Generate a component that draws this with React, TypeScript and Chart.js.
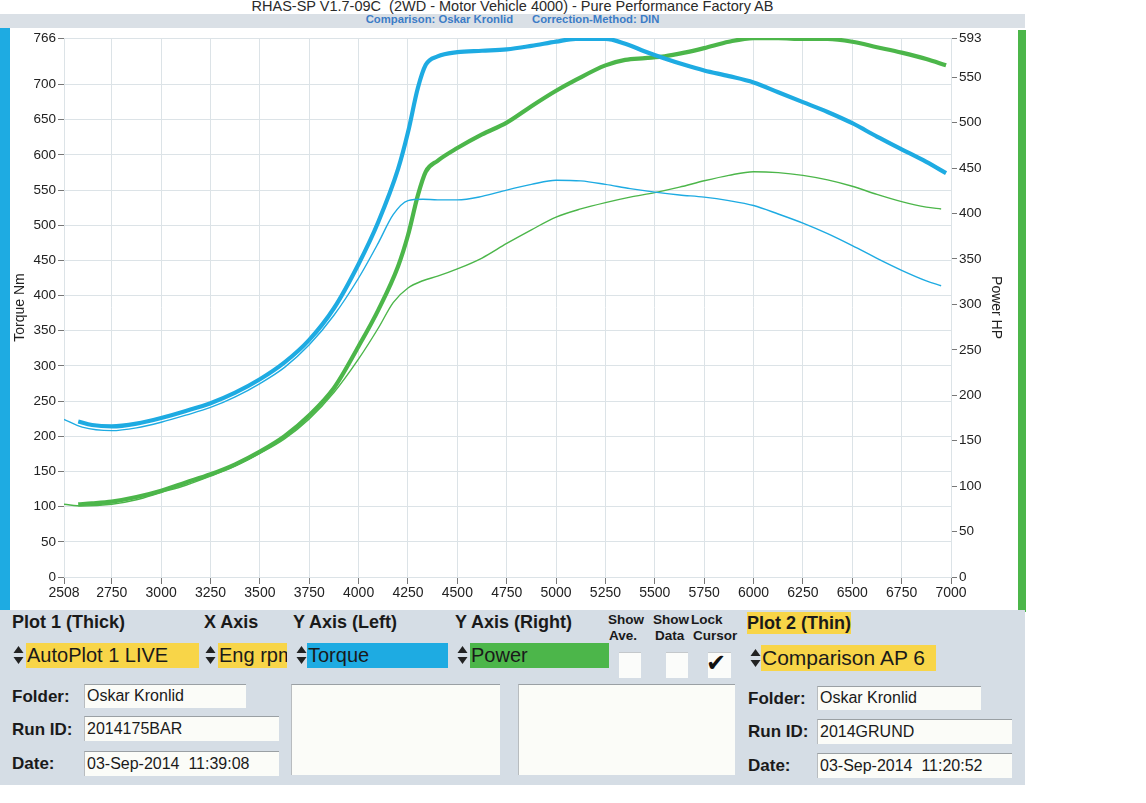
import React, { useEffect, useRef } from "react";
import { Chart, registerables } from "chart.js";

Chart.register(...registerables);

// ---- data (read from the dyno sheet) ----
const rpmThick = [2580, 2650, 2750, 2875, 3000, 3125, 3250, 3375, 3500, 3625, 3750, 3875, 4000, 4100, 4200, 4250, 4300, 4340, 4400, 4500, 4625, 4750, 4875, 5000, 5100, 5250, 5350, 5450, 5550, 5650, 5750, 5875, 6000, 6125, 6250, 6375, 6500, 6625, 6750, 6875, 6975];
const torqueThick = [221, 216, 214, 218, 226, 236, 247, 262, 281, 305, 337, 382, 445, 505, 580, 632, 695, 728, 740, 746, 748, 750, 755, 761, 765, 765, 758, 747, 737, 728, 720, 712, 703, 689, 675, 661, 645, 626, 608, 590, 574];
const powerThick = [80, 81, 83, 88, 95, 104, 113, 124, 138, 155, 178, 208, 254, 294, 342, 376, 420, 446, 458, 472, 487, 500, 518, 535, 547, 563, 569, 571, 573, 577, 582, 589, 593, 593, 592, 592, 589, 583, 577, 570, 563];

const rpmThin = [2508, 2600, 2750, 2875, 3000, 3125, 3250, 3375, 3500, 3625, 3750, 3875, 4000, 4100, 4175, 4250, 4325, 4400, 4500, 4625, 4750, 4875, 5000, 5125, 5250, 5375, 5500, 5625, 5750, 5875, 6000, 6125, 6250, 6375, 6500, 6625, 6750, 6875, 6950];
const torqueThin = [224, 213, 208, 212, 220, 230, 241, 256, 275, 298, 330, 372, 425, 475, 515, 535, 537, 536, 536, 541, 550, 558, 564, 563, 558, 552, 547, 543, 540, 535, 528, 516, 503, 488, 471, 453, 436, 421, 414];
const powerThin = [80, 78, 80, 85, 93, 101, 111, 122, 136, 152, 174, 203, 240, 274, 302, 318, 326, 331, 339, 351, 367, 382, 396, 405, 412, 418, 423, 429, 436, 442, 446, 445, 442, 437, 430, 421, 413, 407, 405];

const xTicks = [2508, 2750, 3000, 3250, 3500, 3750, 4000, 4250, 4500, 4750, 5000, 5250, 5500, 5750, 6000, 6250, 6500, 6750, 7000];
const leftTicks = [0, 50, 100, 150, 200, 250, 300, 350, 400, 450, 500, 550, 600, 650, 700, 766];
const rightTicks = [0, 50, 100, 150, 200, 250, 300, 350, 400, 450, 500, 550, 593];

const BLUE = "#1eabe2";
const GREEN = "#4cb64a";
const YELLOW = "#f8d548";
const PANEL = "#d5dde5";
const FONT = "'Liberation Sans', Arial, sans-serif";

const Spinner = ({ left, top }: { left: number; top: number }) => (
  <svg style={{ position: "absolute", left, top }} width="11" height="22" viewBox="0 0 11 22">
    <polygon points="5.5,2 10.5,9 0.5,9" fill="#222" />
    <polygon points="0.5,13 10.5,13 5.5,20" fill="#222" />
  </svg>
);

const Box = (p: { left: number; top: number; w: number; h: number; bg: string; text?: string; size?: number; color?: string }) => (
  <div
    style={{
      position: "absolute",
      left: p.left,
      top: p.top,
      width: p.w,
      height: p.h,
      background: p.bg,
      fontFamily: FONT,
      fontSize: p.size || 20,
      lineHeight: p.h + "px",
      color: p.color || "#1a1a1a",
      whiteSpace: "nowrap",
      overflow: "hidden",
      paddingLeft: 1,
      boxSizing: "border-box",
    }}
  >
    {p.text}
  </div>
);

const Label = (p: { left: number; top: number; text: string; size?: number; bold?: boolean; bg?: string }) => (
  <div
    style={{
      position: "absolute",
      left: p.left,
      top: p.top,
      fontFamily: FONT,
      fontSize: p.size || 18,
      fontWeight: p.bold === false ? 400 : 700,
      lineHeight: "22px",
      color: "#1a1a1a",
      whiteSpace: "nowrap",
      background: p.bg,
    }}
  >
    {p.text}
  </div>
);

const Field = (p: { left: number; top: number; w: number; h: number; text?: string }) => (
  <div
    style={{
      position: "absolute",
      left: p.left,
      top: p.top,
      width: p.w,
      height: p.h,
      background: "#fbfcf8",
      borderTop: "1px solid #9aa0a4",
      borderLeft: "1px solid #b8bcbf",
      boxSizing: "border-box",
      fontFamily: FONT,
      fontSize: 16,
      lineHeight: p.h - 2 + "px",
      paddingLeft: 2,
      color: "#1a1a1a",
      whiteSpace: "pre",
    }}
  >
    {p.text}
  </div>
);

const small = { position: "absolute" as const, fontFamily: FONT, fontSize: 13.5, fontWeight: 700, lineHeight: "16px", color: "#1a1a1a", whiteSpace: "nowrap" as const };

export default function App() {
  const canvasRef = useRef<HTMLCanvasElement | null>(null);

  useEffect(() => {
    document.body.style.margin = "0";
    const canvas = canvasRef.current;
    if (!canvas) return;
    const yFont = { family: FONT, size: 13.5 };
    const xFont = { family: FONT, size: 14 };
    const gridColor = "#dce3e7";
    const chart = new Chart(canvas, {
      type: "line",
      data: {
        datasets: [
          {
            label: "Torque (Plot 2)",
            data: rpmThin.map((x, i) => ({ x, y: torqueThin[i] })),
            yAxisID: "y",
            borderColor: BLUE,
            borderWidth: 1.4,
            pointRadius: 0,
            cubicInterpolationMode: "monotone",
          },
          {
            label: "Power (Plot 2)",
            data: rpmThin.map((x, i) => ({ x, y: powerThin[i] })),
            yAxisID: "y1",
            borderColor: GREEN,
            borderWidth: 1.4,
            pointRadius: 0,
            cubicInterpolationMode: "monotone",
          },
          {
            label: "Torque (Plot 1)",
            data: rpmThick.map((x, i) => ({ x, y: torqueThick[i] })),
            yAxisID: "y",
            borderColor: BLUE,
            borderWidth: 4.2,
            pointRadius: 0,
            cubicInterpolationMode: "monotone",
          },
          {
            label: "Power (Plot 1)",
            data: rpmThick.map((x, i) => ({ x, y: powerThick[i] })),
            yAxisID: "y1",
            borderColor: GREEN,
            borderWidth: 4.2,
            pointRadius: 0,
            cubicInterpolationMode: "monotone",
          },
        ],
      },
      options: {
        animation: false,
        responsive: false,
        devicePixelRatio: 1,
        layout: { padding: { top: 8, right: 12, left: 0, bottom: 0 } },
        plugins: { legend: { display: false }, tooltip: { enabled: false } },
        scales: {
          x: {
            type: "linear",
            min: 2508,
            max: 7000,
            afterBuildTicks: (s: any) => {
              s.ticks = xTicks.map((v) => ({ value: v }));
            },
            afterFit: (s: any) => {
              s.height = 33;
            },
            ticks: {
              font: xFont,
              color: "#222",
              padding: 1,
              autoSkip: false,
              maxRotation: 0,
              callback: (v: any) => String(v),
            },
            grid: { color: gridColor, tickColor: "#777", tickLength: 7 },
            border: { color: gridColor },
          },
          y: {
            position: "left",
            min: 0,
            max: 766,
            afterBuildTicks: (s: any) => {
              s.ticks = leftTicks.map((v) => ({ value: v }));
            },
            afterFit: (s: any) => {
              s.width = 54;
            },
            ticks: { font: yFont, color: "#222", padding: 2, callback: (v: any) => String(v) },
            grid: { color: gridColor, tickColor: "#777", tickLength: 6 },
            border: { color: gridColor },
            title: { display: true, text: "Torque Nm", font: { family: FONT, size: 14 }, color: "#222", padding: { top: 2, bottom: 2 } },
          },
          y1: {
            position: "right",
            min: 0,
            max: 593,
            afterBuildTicks: (s: any) => {
              s.ticks = rightTicks.map((v) => ({ value: v }));
            },
            afterFit: (s: any) => {
              s.width = 55;
            },
            ticks: { font: yFont, color: "#222", padding: 2, callback: (v: any) => String(v) },
            grid: { drawOnChartArea: false, color: gridColor, tickColor: "#777", tickLength: 6 },
            border: { color: gridColor },
            title: { display: true, text: "Power HP", font: { family: FONT, size: 14 }, color: "#222", padding: { top: 2, bottom: 2 } },
          },
        },
      } as any,
    });
    return () => chart.destroy();
  }, []);

  return (
    <div style={{ position: "relative", width: 1146, height: 803, background: "#ffffff", overflow: "hidden" }}>
      {/* title */}
      <div style={{ position: "absolute", left: 0, width: 1025, top: -2, textAlign: "center", fontFamily: FONT, fontSize: 14.5, color: "#2a2a2a", whiteSpace: "pre" }}>
        {"RHAS-SP V1.7-09C  (2WD - Motor Vehicle 4000) - Pure Performance Factory AB"}
      </div>
      <div style={{ position: "absolute", left: 0, top: 14, width: 1025, height: 14, background: "#dae0e6" }} />
      <div style={{ position: "absolute", left: 0, width: 1025, top: 13, textAlign: "center", fontFamily: FONT, fontSize: 11.3, fontWeight: 700, color: "#3c7cc6", whiteSpace: "pre" }}>
        {"Comparison: Oskar Kronlid      Correction-Method: DIN"}
      </div>
      {/* side bars */}
      <div style={{ position: "absolute", left: 0, top: 28, width: 10, height: 584, background: BLUE }} />
      <div style={{ position: "absolute", left: 1018, top: 30, width: 8, height: 582, background: GREEN }} />
      {/* chart */}
      <canvas ref={canvasRef} width={1008} height={582} style={{ position: "absolute", left: 10, top: 28, width: 1008, height: 582 }} />
      {/* bottom panel */}
      <div style={{ position: "absolute", left: 0, top: 610, width: 1025, height: 175, background: PANEL }} />
      <Label left={12} top={611} text="Plot 1 (Thick)" />
      <Label left={204} top={611} text="X Axis" />
      <Label left={293} top={611} text="Y Axis (Left)" />
      <Label left={455} top={611} text="Y Axis (Right)" />
      <div style={{ ...small, left: 608, top: 612 }}>Show</div>
      <div style={{ ...small, left: 609, top: 628 }}>Ave.</div>
      <div style={{ ...small, left: 653, top: 612 }}>Show</div>
      <div style={{ ...small, left: 655, top: 628 }}>Data</div>
      <div style={{ ...small, left: 691, top: 612 }}>Lock</div>
      <div style={{ ...small, left: 693, top: 628 }}>Cursor</div>

      <Spinner left={13} top={644} />
      <Box left={26} top={643} w={173} h={25} bg={YELLOW} text="AutoPlot 1 LIVE" />
      <Spinner left={205} top={644} />
      <Box left={218} top={643} w={69} h={25} bg={YELLOW} text="Eng rpm" />
      <Spinner left={296} top={644} />
      <Box left={307} top={643} w={141} h={25} bg={BLUE} text="Torque" />
      <Spinner left={457} top={644} />
      <Box left={470} top={643} w={139} h={25} bg={GREEN} text="Power" />

      <div style={{ position: "absolute", left: 619, top: 652, width: 22, height: 25, background: "#fbfcfa", borderTop: "1px solid #c4c8cb" }} />
      <div style={{ position: "absolute", left: 666, top: 652, width: 22, height: 25, background: "#fbfcfa", borderTop: "1px solid #c4c8cb" }} />
      <div style={{ position: "absolute", left: 708, top: 652, width: 23, height: 25, background: "#fbfcfa", borderTop: "1px solid #c4c8cb" }} />
      <div style={{ position: "absolute", left: 706, top: 649, fontFamily: "'DejaVu Sans', sans-serif", fontSize: 24, lineHeight: "28px", color: "#111" }}>✔</div>

      <Label left={747} top={612} text="Plot 2 (Thin)" bg={YELLOW} />
      <Spinner left={750} top={647} />
      <Box left={761} top={645} w={175} h={26} bg={YELLOW} text="Comparison AP 6" size={21} />

      <Label left={12} top={686} text="Folder:" size={17} />
      <Label left={12} top={719} text="Run ID:" size={17} />
      <Label left={12} top={753} text="Date:" size={17} />
      <Field left={84} top={684} w={162} h={24} text="Oskar Kronlid" />
      <Field left={84} top={716} w={195} h={25} text="2014175BAR" />
      <Field left={84} top={751} w={195} h={25} text="03-Sep-2014  11:39:08" />

      <Field left={291} top={684} w={209} h={91} />
      <Field left={518} top={684} w={217} h={91} />

      <Label left={748} top={688} text="Folder:" size={17} />
      <Label left={748} top={721} text="Run ID:" size={17} />
      <Label left={748} top={755} text="Date:" size={17} />
      <Field left={817} top={686} w={164} h={24} text="Oskar Kronlid" />
      <Field left={817} top={719} w={195} h={25} text="2014GRUND" />
      <Field left={817} top={753} w={195} h={25} text="03-Sep-2014  11:20:52" />
    </div>
  );
}
